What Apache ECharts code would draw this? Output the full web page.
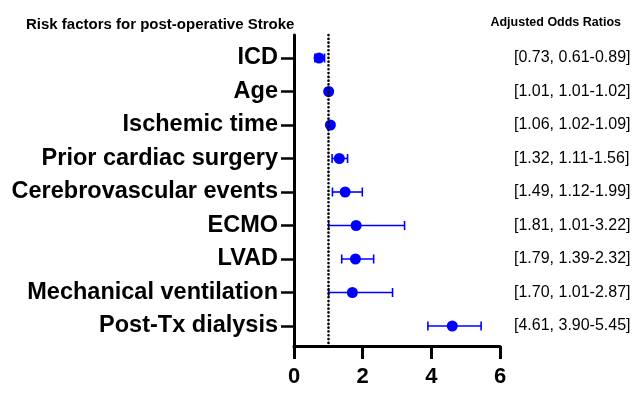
<!DOCTYPE html>
<html><head><meta charset="utf-8">
<script src="https://cdn.jsdelivr.net/npm/echarts@6/dist/echarts.min.js"></script>
<style>html,body{margin:0;padding:0;background:#fff}#c{width:634px;height:405px}</style>
</head><body><div id="c"></div>
<script>
const categories = ['ICD','Age','Ischemic time','Prior cardiac surgery','Cerebrovascular events','ECMO','LVAD','Mechanical ventilation','Post-Tx dialysis'];
const oddsRatio = [0.73, 1.01, 1.06, 1.32, 1.49, 1.81, 1.79, 1.70, 4.61];
const lowerCI   = [0.61, 1.01, 1.02, 1.11, 1.12, 1.01, 1.39, 1.01, 3.90];
const upperCI   = [0.89, 1.02, 1.09, 1.56, 1.99, 3.22, 2.32, 2.87, 5.45];
const orLabels  = ['[0.73, 0.61-0.89]','[1.01, 1.01-1.02]','[1.06, 1.02-1.09]','[1.32, 1.11-1.56]','[1.49, 1.12-1.99]','[1.81, 1.01-3.22]','[1.79, 1.39-2.32]','[1.70, 1.01-2.87]','[4.61, 3.90-5.45]'];
const xTicks = [0, 2, 4, 6];
const referenceLine = 1;

const positions = categories.map((c, i) => i + 1);
const font = 'Arial, "Liberation Sans", sans-serif';
const blue = '#0000FF';

const chart = echarts.init(document.getElementById('c'), null, {renderer: 'canvas'});
const yMin = 0.313, yMax = 9.597;
chart.setOption({
  animation: false,
  title: [
    {text: 'Risk factors for post-operative Stroke', left: 21, top: 12,
     textStyle: {fontFamily: font, fontSize: 15, fontWeight: 'bold', color: '#000'}},
    {text: 'Adjusted Odds Ratios', right: 8, top: 11,
     textStyle: {fontFamily: font, fontSize: 12.5, fontWeight: 'bold', color: '#000'}}
  ],
  grid: {left: 294, right: 134, top: 35, bottom: 59},
  xAxis: {
    type: 'value', min: xTicks[0], max: xTicks[xTicks.length - 1], interval: 2,
    axisLine: {show: true, lineStyle: {color: '#000', width: 3}},
    axisTick: {show: true, length: 13, lineStyle: {color: '#000', width: 3}},
    axisLabel: {fontFamily: font, fontSize: 22, fontWeight: 'bold', color: '#000', margin: 20},
    splitLine: {show: false}
  },
  yAxis: [
    {
      type: 'value', inverse: true, min: yMin, max: yMax,
      axisLine: {show: true, onZero: false, lineStyle: {color: '#000', width: 3}},
      axisTick: {show: true, length: 13, customValues: positions, lineStyle: {color: '#000', width: 2.5}},
      axisLabel: {customValues: positions, margin: 16, fontFamily: font, fontSize: 23.5, fontWeight: 'bold', color: '#000',
        formatter: v => categories[Math.round(v) - 1] || ''},
      splitLine: {show: false}
    },
    {
      type: 'value', inverse: true, min: yMin, max: yMax, position: 'right',
      axisLine: {show: false}, axisTick: {show: false},
      axisLabel: {customValues: positions, margin: 14, align: 'left', fontFamily: font, fontSize: 16, color: '#000',
        formatter: v => orLabels[Math.round(v) - 1] || ''},
      splitLine: {show: false}
    }
  ],
  series: [
    {
      type: 'custom', yAxisIndex: 0,
      data: positions.map((p, i) => [lowerCI[i], upperCI[i], p]),
      renderItem: function (params, api) {
        const lo = api.coord([api.value(0), api.value(2)]);
        const hi = api.coord([api.value(1), api.value(2)]);
        const h = 4.5;
        const st = {stroke: blue, lineWidth: 1.6};
        return {type: 'group', children: [
          {type: 'line', shape: {x1: lo[0], y1: lo[1], x2: hi[0], y2: hi[1]}, style: st},
          {type: 'line', shape: {x1: lo[0], y1: lo[1] - h, x2: lo[0], y2: lo[1] + h}, style: st},
          {type: 'line', shape: {x1: hi[0], y1: hi[1] - h, x2: hi[0], y2: hi[1] + h}, style: st}
        ]};
      },
      z: 3
    },
    {
      type: 'scatter', yAxisIndex: 0,
      data: positions.map((p, i) => [oddsRatio[i], p]),
      symbol: 'circle', symbolSize: 11,
      itemStyle: {color: blue, opacity: 1},
      z: 4,
      markLine: {
        silent: true, symbol: 'none', label: {show: false},
        lineStyle: {color: '#000', type: [0.1, 3.7], width: 2.6, cap: 'round'},
        data: [{xAxis: referenceLine}]
      }
    }
  ]
});
</script></body></html>
